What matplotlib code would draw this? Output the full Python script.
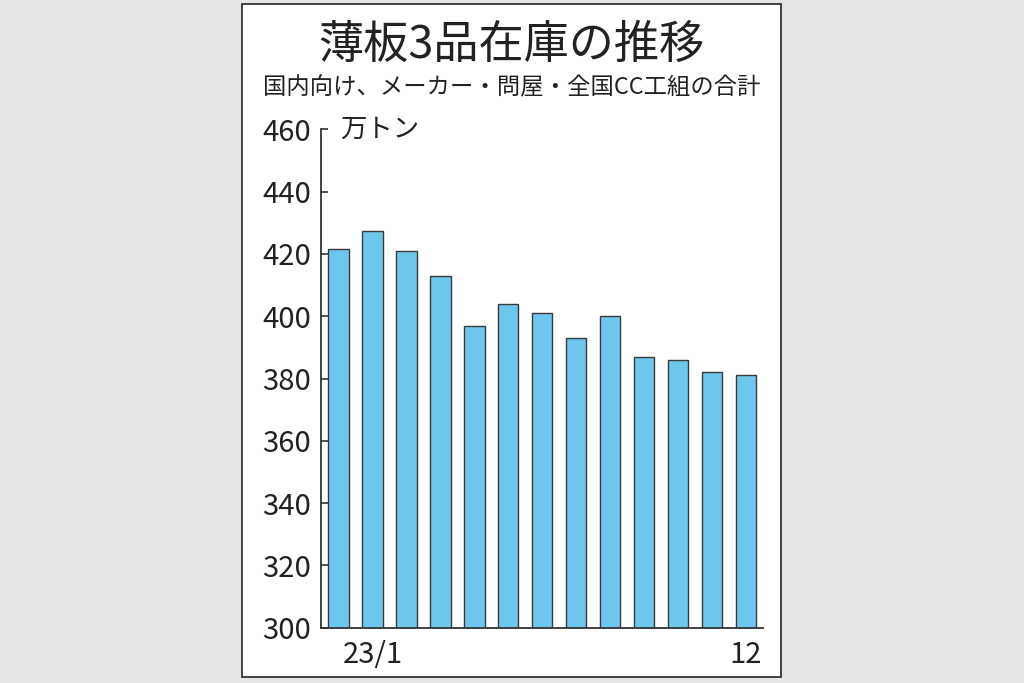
import matplotlib
matplotlib.use("Agg")
import matplotlib.pyplot as plt
from matplotlib.patches import Rectangle

plt.rcParams['font.family'] = ['Noto Sans CJK JP', 'DejaVu Sans']

# data (万トン), 22/12 .. 23/12
months = ['22/12', '23/1', '2', '3', '4', '5', '6', '7', '8', '9', '10', '11', '12']
stock = [421.5, 427.5, 421, 413, 397, 404, 401, 393, 400, 387, 386, 382, 381]
shown_labels = {1: '23/1', 12: '12'}

title = '薄板3品在庫の推移'
subtitle = '国内向け、メーカー・問屋・全国CC工組の合計'
unit = '万トン'

W, H = 1024, 683
fig = plt.figure(figsize=(W / 100, H / 100), dpi=100)
fig.patch.set_facecolor('#e5e5e5')

# white panel with frame
fig.patches.append(Rectangle((242 / W, 1 - 677 / H), (781 - 242) / W, (677 - 4) / H,
                             transform=fig.transFigure, facecolor='white',
                             edgecolor='#333333', linewidth=1.3, zorder=-1))

fig.text(511.5 / W, 1 - 45 / H, title, ha='center', va='center',
         fontsize=32.5, color='#222222')
fig.text(511.5 / W, 1 - 88 / H, subtitle, ha='center', va='center',
         fontsize=16.8, color='#222222')

ax = fig.add_axes([320.7 / W, 1 - 627.7 / H, (763.3 - 320.7) / W, (627.7 - 129.3) / H])
ax.set_facecolor('none')
ax.set_zorder(2)

x = list(range(len(stock)))
ax.bar(x, stock, width=0.6, bottom=0, color='#6dc6eb', edgecolor='#3a3a3a',
       linewidth=1.0, zorder=2)

ax.set_ylim(300, 460)
ax.set_xlim(-0.524, 12.51)
ax.set_yticks(range(300, 461, 20))
ax.set_xticks(list(shown_labels.keys()))
ax.set_xticklabels(list(shown_labels.values()))

for s in ['top', 'right']:
    ax.spines[s].set_visible(False)
for s in ['left', 'bottom']:
    ax.spines[s].set_color('#333333')
    ax.spines[s].set_linewidth(1.3)

ax.tick_params(axis='y', direction='in', length=5, width=1.2, color='#333333',
               labelsize=21, labelcolor='#222222', pad=7)
ax.tick_params(axis='x', length=0, labelsize=21, labelcolor='#222222', pad=9)

ax.text(340 / W, 1 - 129.5 / H, unit, transform=fig.transFigure, ha='left',
        va='center', fontsize=19, color='#222222')

fig.savefig('out.png', dpi=100, facecolor=fig.get_facecolor())
